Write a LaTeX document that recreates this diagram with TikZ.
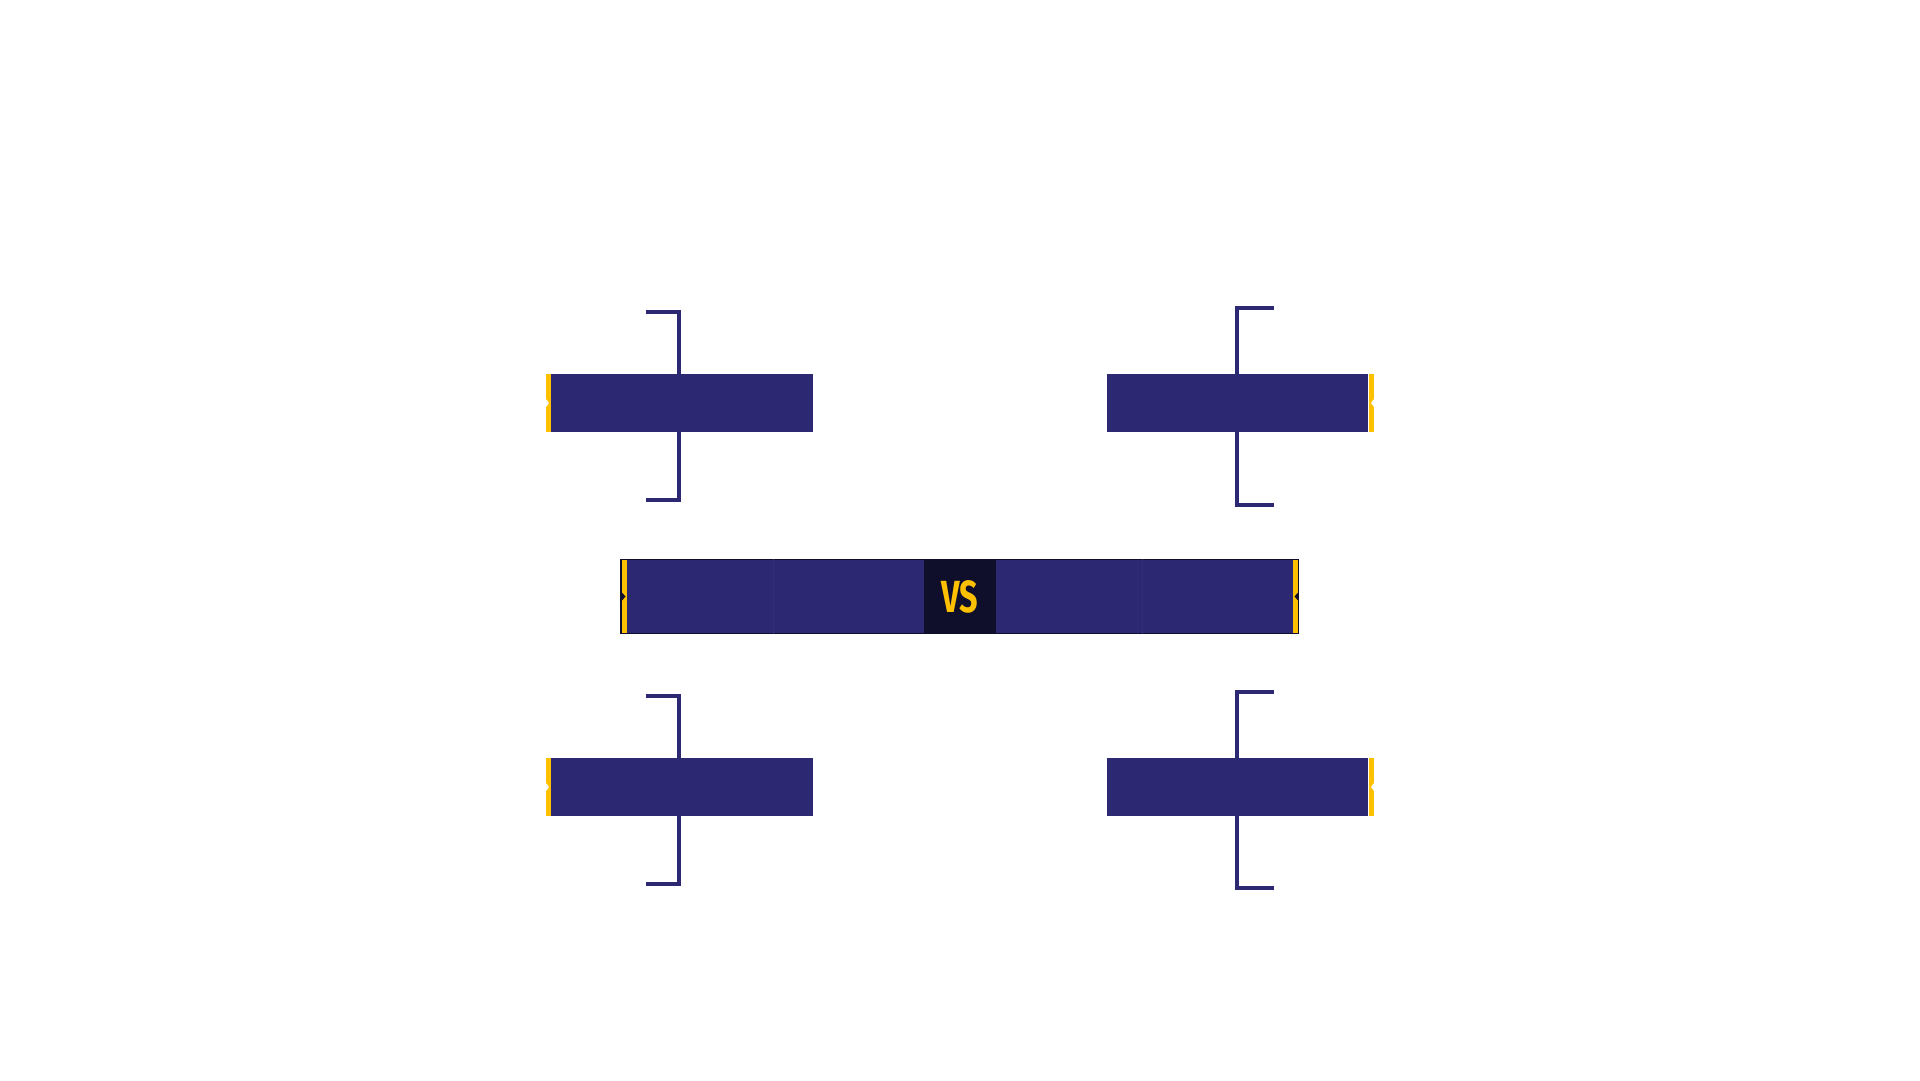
\documentclass[tikz,border=0pt]{standalone}
\usepackage{fontspec}
\usepackage{graphicx}
\setsansfont{Fira Sans}
\definecolor{navy}{HTML}{2C2872}
\definecolor{gold}{HTML}{FFC000}
\definecolor{deep}{HTML}{100F2B}
\definecolor{seam}{HTML}{322E7C}
\tikzset{
  panel/.style={fill=navy, draw=none, minimum width=262pt, minimum height=58pt, inner sep=0pt, outer sep=0pt},
  tab/.style={fill=gold, draw=none, minimum width=5pt, minimum height=58pt, inner sep=0pt, outer sep=0pt},
  brk/.style={draw=navy, line width=4pt, line join=miter},
  notchw/.style={fill=white, draw=none},
  notchk/.style={fill=deep, draw=none},
}
\begin{document}
\begin{tikzpicture}[x=1pt,y=-1pt]
\useasboundingbox[fill=white] (0,0) rectangle (1920,1080);

% ---------- top-left ----------
\node[panel] (tl) at (682,403) {};
\node[tab] (tlt) at (548.5,403) {};
\coordinate (tlA) at (678.5,312);
\coordinate (tlAe) at (646,312);
\coordinate (tlB) at (678.5,500);
\coordinate (tlBe) at (646,500);
\draw[brk] (tl.north -| tlA) -- (tlA) -- (tlAe);
\draw[brk] (tl.south -| tlB) -- (tlB) -- (tlBe);
\fill[notchw] (tlt.west) ++(0,-4) -- ++(3,4) -- ++(-3,4) -- cycle;

% ---------- top-right ----------
\node[panel, minimum width=261pt] (tr) at (1237.5,403) {};
\node[tab] (trt) at (1371.5,403) {};
\coordinate (trA) at (1237,308);
\coordinate (trAe) at (1274,308);
\coordinate (trB) at (1237,504.5);
\coordinate (trBe) at (1274,504.5);
\draw[brk] (tr.north -| trA) -- (trA) -- (trAe);
\draw[brk] (tr.south -| trB) -- (trB) -- (trBe);
\fill[notchw] (trt.east) ++(0,-4) -- ++(-3,4) -- ++(3,4) -- cycle;

% ---------- bottom-left ----------
\node[panel] (bl) at (682,787) {};
\node[tab] (blt) at (548.5,787) {};
\coordinate (blA) at (678.5,696);
\coordinate (blAe) at (646,696);
\coordinate (blB) at (678.5,884);
\coordinate (blBe) at (646,884);
\draw[brk] (bl.north -| blA) -- (blA) -- (blAe);
\draw[brk] (bl.south -| blB) -- (blB) -- (blBe);
\fill[notchw] (blt.west) ++(0,-4) -- ++(3,4) -- ++(-3,4) -- cycle;

% ---------- bottom-right ----------
\node[panel, minimum width=261pt] (br) at (1237.5,787) {};
\node[tab] (brt) at (1371.5,787) {};
\coordinate (brA) at (1237,692);
\coordinate (brAe) at (1274,692);
\coordinate (brB) at (1237,888);
\coordinate (brBe) at (1274,888);
\draw[brk] (br.north -| brA) -- (brA) -- (brAe);
\draw[brk] (br.south -| brB) -- (brB) -- (brBe);
\fill[notchw] (brt.east) ++(0,-4) -- ++(-3,4) -- ++(3,4) -- cycle;

% ---------- middle VS bar ----------
\node[fill=deep, draw=none, minimum width=679pt, minimum height=75pt, inner sep=0pt, outer sep=0pt] (bar) at (959.5,596.5) {};
\node[fill=navy, minimum width=297pt, minimum height=73pt, inner sep=0pt, outer sep=0pt] (leftside) at (775.5,596.5) {};
\node[fill=navy, minimum width=297pt, minimum height=73pt, inner sep=0pt, outer sep=0pt] (rightside) at (1144.5,596.5) {};
\node[fill=gold, minimum width=5pt, minimum height=73pt, inner sep=0pt, outer sep=0pt] (ltab) at (624.5,596.5) {};
\node[fill=gold, minimum width=5pt, minimum height=73pt, inner sep=0pt, outer sep=0pt] (rtab) at (1295.5,596.5) {};
\node[fill=deep, minimum width=72pt, minimum height=73pt, inner sep=0pt, outer sep=0pt] (vsbox) at (960,596.5) {};
\draw[seam, line width=1pt] (773,559) -- (773,634);
\draw[seam, line width=1pt] (1142,559) -- (1142,634);
\fill[notchk] (ltab.west) ++(0,-4) -- ++(3.5,4) -- ++(-3.5,4) -- cycle;
\fill[notchk] (rtab.east) ++(0,-4) -- ++(-3.5,4) -- ++(3.5,4) -- cycle;
\node[text=gold, inner sep=0pt] (vs) at (vsbox.center) {\scalebox{0.72}[1]{\fontsize{45}{45}\selectfont\sffamily\bfseries VS}};
\end{tikzpicture}
\end{document}
